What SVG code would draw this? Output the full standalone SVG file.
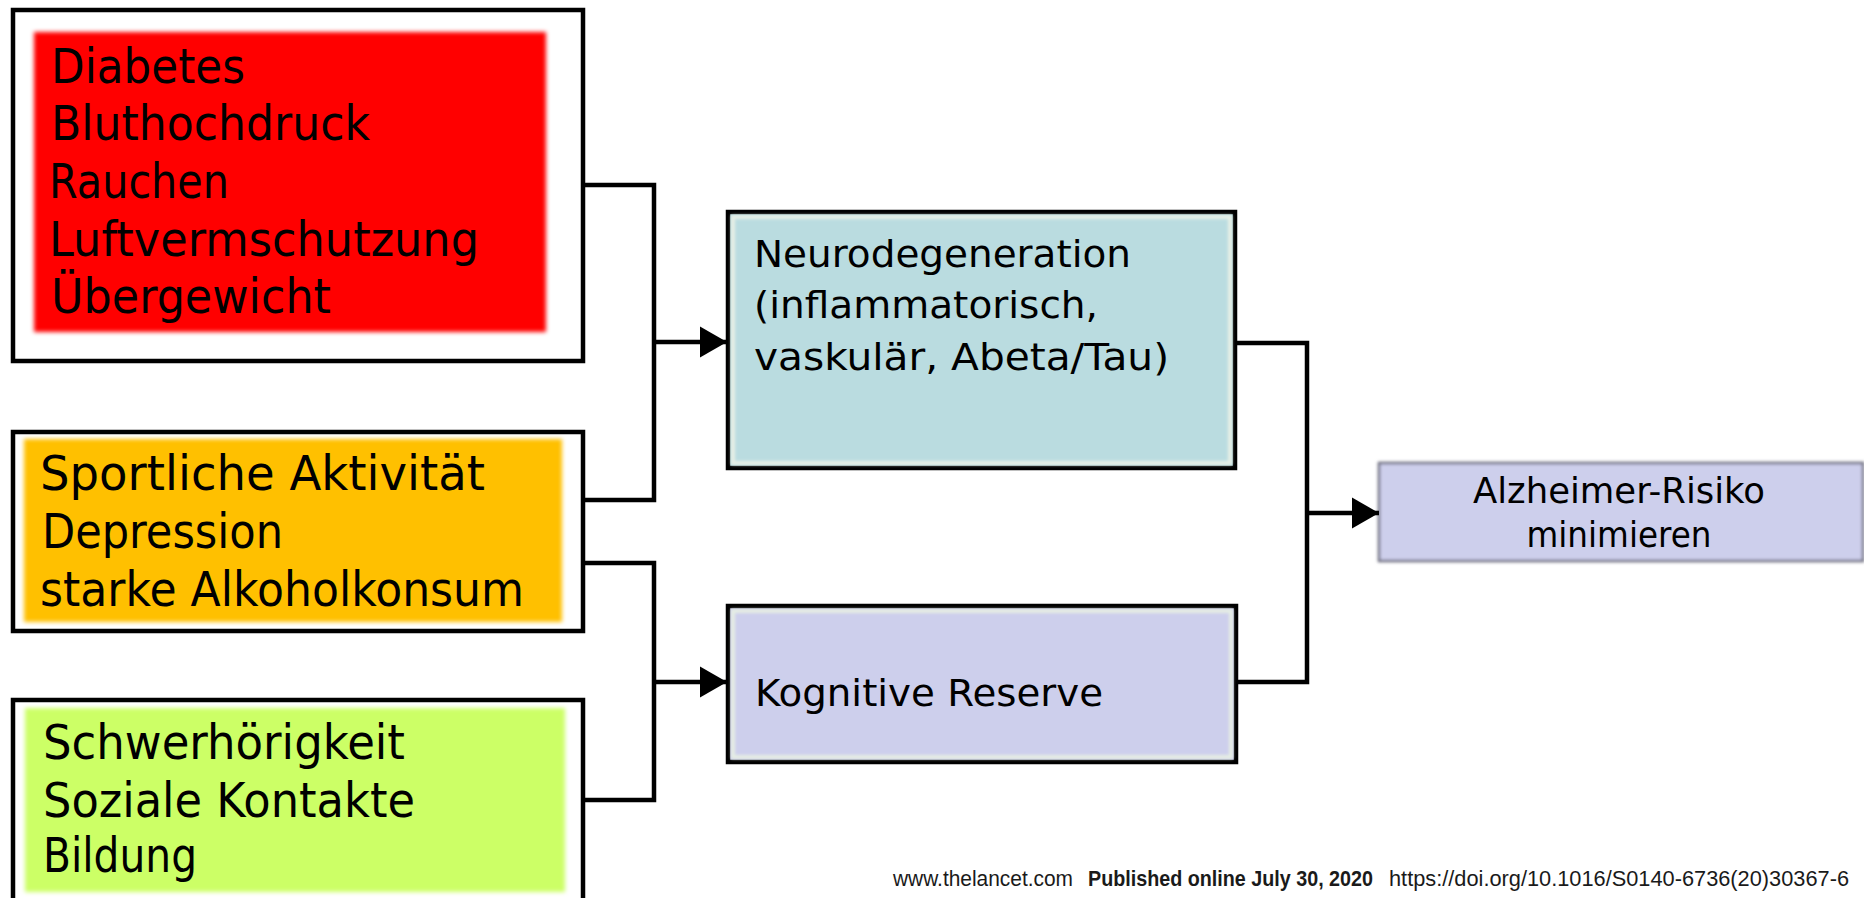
<svg xmlns="http://www.w3.org/2000/svg" width="1864" height="898" viewBox="0 0 1864 898">
<style>
.frame{fill:#FFFFFF;stroke:#000000;stroke-width:4.5}
.box{stroke:#000000;stroke-width:4.5}
.t{font-family:"DejaVu Sans","Liberation Sans",sans-serif;fill:#000000}
.big{font-size:48px}
.mid{font-size:38px}
.sm{font-size:36px}
.wire{fill:none;stroke:#000000;stroke-width:4.5;stroke-linejoin:miter}
.foot{font-family:"Liberation Sans",Arial,sans-serif;font-size:22px;fill:#1a1a1a}
</style>
<defs>
<filter id="soft" x="-5%" y="-5%" width="110%" height="110%"><feGaussianBlur stdDeviation="2"/></filter>
<filter id="glow" x="-5%" y="-5%" width="110%" height="110%"><feGaussianBlur stdDeviation="1.5"/></filter>
<marker id="arrow" markerUnits="userSpaceOnUse" markerWidth="27" markerHeight="32" refX="27" refY="16" orient="auto"><path d="M0,0.5 L27,16 L0,31.5 Z" fill="#000000"/></marker>
</defs>
<rect width="1864" height="898" fill="#FFFFFF"/>

<g id="node-risk-red">
<rect class="frame" x="13" y="10" width="570" height="351"/>
<rect x="34" y="32" width="512" height="300" fill="#FF0000" filter="url(#soft)"/>
<text class="t big" x="51" y="83" textLength="194" lengthAdjust="spacingAndGlyphs">Diabetes</text>
<text class="t big" x="51" y="140" textLength="319" lengthAdjust="spacingAndGlyphs">Bluthochdruck</text>
<text class="t big" x="49" y="198" textLength="180" lengthAdjust="spacingAndGlyphs">Rauchen</text>
<text class="t big" x="49" y="256" textLength="430" lengthAdjust="spacingAndGlyphs">Luftvermschutzung</text>
<text class="t big" x="51" y="313" textLength="280" lengthAdjust="spacingAndGlyphs">Übergewicht</text>
</g>

<g id="node-risk-orange">
<rect class="frame" x="13" y="432" width="570" height="199"/>
<rect x="24" y="439" width="538" height="183" fill="#FFC000" filter="url(#soft)"/>
<text class="t big" x="40" y="490" textLength="445" lengthAdjust="spacingAndGlyphs">Sportliche Aktivität</text>
<text class="t big" x="42" y="548" textLength="241" lengthAdjust="spacingAndGlyphs">Depression</text>
<text class="t big" x="40" y="606" textLength="484" lengthAdjust="spacingAndGlyphs">starke Alkoholkonsum</text>
</g>

<g id="node-risk-green">
<rect class="frame" x="13" y="700" width="570" height="220"/>
<rect x="25" y="708" width="540" height="184" fill="#CCFF66" filter="url(#soft)"/>
<text class="t big" x="43" y="759" textLength="362" lengthAdjust="spacingAndGlyphs">Schwerhörigkeit</text>
<text class="t big" x="43" y="817" textLength="372" lengthAdjust="spacingAndGlyphs">Soziale Kontakte</text>
<text class="t big" x="43" y="872" textLength="154" lengthAdjust="spacingAndGlyphs">Bildung</text>
</g>

<g id="node-neuro">
<rect class="box" x="728" y="212" width="507" height="256" fill="#BADCE0"/>
<rect x="733" y="217" width="497" height="246" fill="none" stroke="#E8F0E6" stroke-width="4" filter="url(#glow)"/>
<text class="t mid" x="754" y="267" textLength="377" lengthAdjust="spacingAndGlyphs">Neurodegeneration</text>
<text class="t mid" x="754" y="318" textLength="344" lengthAdjust="spacingAndGlyphs">(inflammatorisch,</text>
<text class="t mid" x="754" y="370" textLength="415" lengthAdjust="spacingAndGlyphs">vaskulär, Abeta/Tau)</text>
</g>

<g id="node-reserve">
<rect class="box" x="728" y="606" width="508" height="156" fill="#CDCFEC"/>
<rect x="733" y="611" width="498" height="146" fill="none" stroke="#E6EEE4" stroke-width="4" filter="url(#glow)"/>
<text class="t mid" x="755" y="706" textLength="348" lengthAdjust="spacingAndGlyphs">Kognitive Reserve</text>
</g>

<g id="node-alzheimer">
<rect x="1379" y="463" width="484" height="98" fill="#CDCFEC" stroke="#6A6A7C" stroke-width="2.5" filter="url(#glow)"/>
<text class="t sm" x="1619" y="503" text-anchor="middle" textLength="292" lengthAdjust="spacingAndGlyphs">Alzheimer-Risiko</text>
<text class="t sm" x="1619" y="547" text-anchor="middle" textLength="185" lengthAdjust="spacingAndGlyphs">minimieren</text>
</g>

<g id="connectors">
<path class="wire" d="M583,185 H654 V500 H583"/>
<path class="wire" d="M654,342 H727" marker-end="url(#arrow)"/>
<path class="wire" d="M583,563 H654 V800 H583"/>
<path class="wire" d="M654,682 H727" marker-end="url(#arrow)"/>
<path class="wire" d="M1235,343 H1307 V682 H1236"/>
<path class="wire" d="M1307,513 H1379" marker-end="url(#arrow)"/>
</g>

<g id="footer">
<text class="foot" x="893" y="886" textLength="180" lengthAdjust="spacingAndGlyphs">www.thelancet.com</text>
<text class="foot" x="1088" y="886" font-weight="bold" textLength="285" lengthAdjust="spacingAndGlyphs">Published online July 30, 2020</text>
<text class="foot" x="1389" y="886" textLength="460" lengthAdjust="spacingAndGlyphs">https://doi.org/10.1016/S0140-6736(20)30367-6</text>
</g>
</svg>
